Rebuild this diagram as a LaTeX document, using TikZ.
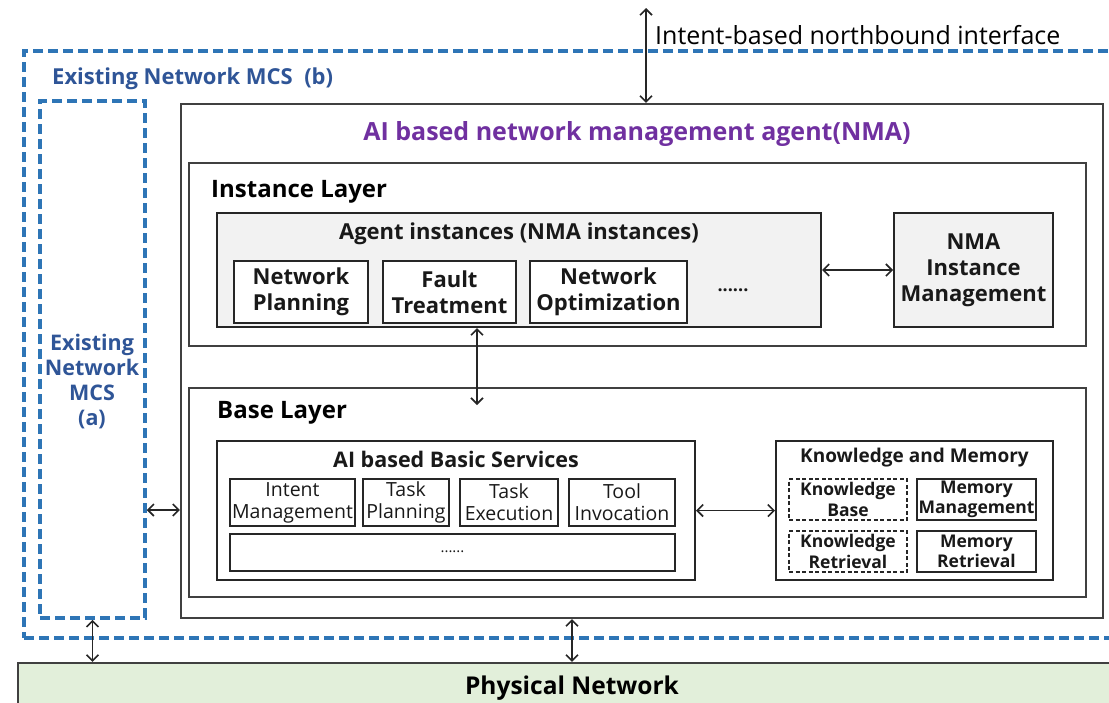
\documentclass[tikz,border=0pt]{standalone}
\usepackage{fontspec}
\setmainfont{Open Sans}
\usetikzlibrary{arrows.meta}
\definecolor{dashblue}{RGB}{46,117,182}
\definecolor{txtblue}{RGB}{47,85,151}
\definecolor{nmapurple}{RGB}{112,48,160}
\definecolor{boxline}{RGB}{64,64,64}
\definecolor{fillgray}{RGB}{242,242,242}
\definecolor{physgreen}{RGB}{226,239,218}
\newcommand\fsz[2]{\fontsize{#1}{#2}\selectfont}
\tikzset{
  box/.style={draw=boxline, line width=2.2pt, inner sep=0pt, align=center},
  inbox/.style={draw=black!85, line width=2pt, inner sep=0pt, align=center},
  dbox/.style={draw=black!85, line width=1.3pt, dash pattern=on 4pt off 2.5pt, inner sep=0pt, align=center},
  bluedash/.style={draw=dashblue, line width=3.5pt, dash pattern=on 10pt off 5pt, inner sep=0pt},
  arr/.style={{Straight Barb[length=6pt,width=12pt]}-{Straight Barb[length=6pt,width=12pt]}, line width=1.6pt, draw=black!85},
  btxt/.style={font=\bfseries\fsz{22}{26}, text=black!90, align=center, inner sep=0pt},
  rtxt/.style={font=\fsz{19.5}{22}, text=black!90, align=center, inner sep=0pt},
  stxt/.style={font=\bfseries\fsz{17.5}{20.5}, text=black!90, align=center, inner sep=0pt},
  down/.style={yshift=-2.5pt},
}
\begin{document}
\begin{tikzpicture}[x=1pt,y=-1pt]
\useasboundingbox (0,0) rectangle (1109,702);
\clip (0,0) rectangle (1109,702);

% outer dashed MCS (b)
\node[bluedash, minimum width=1096pt, minimum height=587pt] (mcsb) at (572,344.5) {};
\node[down, font=\bfseries\fsz{22}{26}, text=txtblue, anchor=west, inner sep=0pt] (mcsbt) at (52,76) {Existing Network MCS\ \ (b)};

% inner dashed MCS (a)
\node[bluedash, minimum width=105pt, minimum height=517pt] (mcsa) at (92.5,359.5) {};
\node[down, font=\bfseries\fsz{21.5}{25}, text=txtblue, align=center, inner sep=0pt] (mcsat) at (92,379) {Existing\\Network\\MCS\\(a)};

% NMA
\node[box, minimum width=922pt, minimum height=514pt] (nma) at (642,361) {};
\node[down, font=\bfseries\fsz{25}{28}, text=nmapurple, inner sep=0pt] (nmat) at (637,132) {AI based network management agent(NMA)};

% Instance layer
\node[box, minimum width=897pt, minimum height=183pt] (inst) at (637.5,254.5) {};
\node[down, font=\bfseries\fsz{24}{26}, text=black, anchor=west, inner sep=0pt] (instt) at (211,189) {Instance Layer};

\node[inbox, fill=fillgray, minimum width=604pt, minimum height=114pt] (ai) at (519,270) {};
\node[down, btxt, font=\bfseries\fsz{22}{24}] (ait) at (519,231) {Agent instances (NMA instances)};
\node[inbox, fill=white, minimum width=134pt, minimum height=62pt] (np) at (301,292) {};
\node[btxt] at (np) {Network\\Planning};
\node[inbox, fill=white, minimum width=133pt, minimum height=62pt] (ft) at (449.5,292) {};
\node[btxt] at (ft) {Fault\\Treatment};
\node[inbox, fill=white, minimum width=157pt, minimum height=62pt] (no) at (608.5,292) {};
\node[btxt] at (no) {Network\\Optimization};
\node[btxt, font=\bfseries\fsz{18}{20}] (idots) at (733,290) {......};

\node[inbox, fill=fillgray, minimum width=159pt, minimum height=114pt] (nim) at (973.5,270) {};
\node[btxt] at (nim) {NMA\\Instance\\Management};

% Base layer
\node[box, minimum width=897pt, minimum height=209pt] (base) at (637.5,492.5) {};
\node[down, font=\bfseries\fsz{24}{26}, text=black, anchor=west, inner sep=0pt] (baset) at (217,410) {Base Layer};

\node[inbox, minimum width=478pt, minimum height=139pt] (bs) at (456,510.5) {};
\node[btxt, font=\bfseries\fsz{21.5}{24}] (bst) at (456,459) {AI based Basic Services};
\node[inbox, minimum width=125pt, minimum height=47pt] (im) at (292.5,502.5) {};
\node[rtxt] at (im) {Intent\\Management};
\node[inbox, minimum width=86pt, minimum height=47pt] (tp) at (406,502.5) {};
\node[rtxt] at (tp) {Task\\Planning};
\node[inbox, minimum width=98pt, minimum height=47pt] (te) at (509,502.5) {};
\node[rtxt] at (te) {Task\\Execution};
\node[inbox, minimum width=106pt, minimum height=47pt] (ti) at (622,502.5) {};
\node[rtxt] at (ti) {Tool\\Invocation};
\node[inbox, minimum width=445pt, minimum height=37pt] (more) at (452.5,552.5) {};
\node[rtxt, font=\fsz{15}{16}] at (452.5,552) {......};

\node[inbox, minimum width=277pt, minimum height=139pt] (km) at (914.5,510.5) {};
\node[stxt, font=\bfseries\fsz{19}{21}] (kmt) at (914.5,458) {Knowledge and Memory};
\node[dbox, minimum width=118pt, minimum height=41pt] (kb) at (848,499.5) {};
\node[stxt] at (kb) {Knowledge\\Base};
\node[inbox, minimum width=119pt, minimum height=41pt] (mm) at (976.5,499.5) {};
\node[stxt] at (mm) {Memory\\Management};
\node[dbox, minimum width=118pt, minimum height=41pt] (kr) at (848,551.5) {};
\node[stxt] at (kr) {Knowledge\\Retrieval};
\node[inbox, minimum width=119pt, minimum height=41pt] (mr) at (976.5,551.5) {};
\node[stxt] at (mr) {Memory\\Retrieval};

% physical network
\node[draw=boxline, line width=2.2pt, fill=physgreen, minimum width=1108pt, minimum height=60pt, inner sep=0pt] (phys) at (572,693) {};
\node[down, font=\bfseries\fsz{24.5}{26}, text=black, inner sep=0pt] (physt) at (572,686) {Physical Network};

% northbound interface
\coordinate (nb) at (646,8);
\node[down, font=\fsz{25}{28}, text=black, anchor=west, inner sep=0pt] (nbt) at (655,33) {Intent-based northbound interface};

% arrows
\draw[arr] (nb) -- (nb |- nma.north);
\draw[arr] (ai.east) -- (nim.west);
\coordinate (bt) at (477,405);
\draw[arr] (bt |- ai.south) -- (bt);
\draw[arr] (bs.east) -- (km.west);
\draw[arr] (mcsa.east |- 0,510) -- (nma.west |- 0,510);
\draw[arr] (mcsa.south) -- (mcsa.south |- phys.north);
\draw[arr] (nma.south -| phys.north) -- (phys.north);
\end{tikzpicture}
\end{document}
